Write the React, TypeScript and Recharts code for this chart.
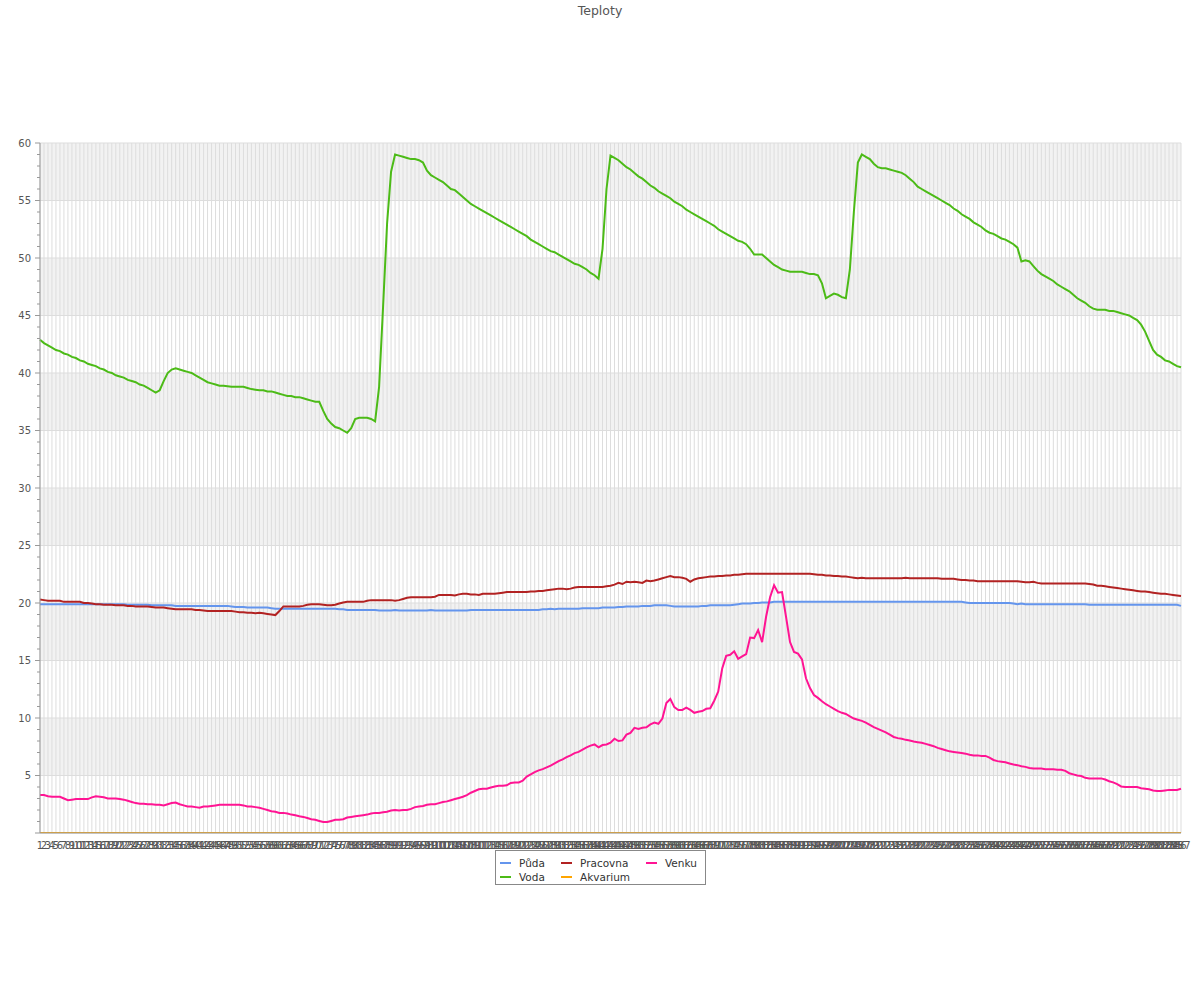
import React from 'react';
import { LineChart, Line, XAxis, YAxis, CartesianGrid, Legend } from 'recharts';

// categories 1..287
const categories: string[] = Array.from({ length: 287 }, (_, i) => String(i + 1));

const puda: number[] = [
  19.9, 19.9, 19.9, 19.9, 19.9, 19.9, 19.9, 19.9, 19.9, 19.9,
  19.9, 19.9, 19.9, 19.9, 19.9, 19.9, 19.9, 19.9, 19.9, 19.9,
  19.9, 19.9, 19.85, 19.85, 19.85, 19.85, 19.85, 19.85, 19.8, 19.8,
  19.8, 19.8, 19.8, 19.8, 19.75, 19.75, 19.75, 19.75, 19.75, 19.75,
  19.75, 19.75, 19.75, 19.75, 19.75, 19.75, 19.75, 19.75, 19.7, 19.65,
  19.65, 19.65, 19.6, 19.6, 19.6, 19.6, 19.6, 19.6, 19.55, 19.5,
  19.5, 19.5, 19.5, 19.5, 19.5, 19.5, 19.5, 19.5, 19.5, 19.5,
  19.5, 19.5, 19.5, 19.5, 19.5, 19.45, 19.45, 19.4, 19.4, 19.4,
  19.4, 19.4, 19.4, 19.4, 19.4, 19.35, 19.35, 19.35, 19.35, 19.4,
  19.35, 19.35, 19.35, 19.35, 19.35, 19.35, 19.35, 19.35, 19.4, 19.35,
  19.35, 19.35, 19.35, 19.35, 19.35, 19.35, 19.35, 19.35, 19.4, 19.4,
  19.4, 19.4, 19.4, 19.4, 19.4, 19.4, 19.4, 19.4, 19.4, 19.4,
  19.4, 19.4, 19.4, 19.4, 19.4, 19.4, 19.45, 19.45, 19.5, 19.45,
  19.5, 19.5, 19.5, 19.5, 19.5, 19.5, 19.55, 19.55, 19.55, 19.55,
  19.55, 19.6, 19.6, 19.6, 19.6, 19.65, 19.65, 19.7, 19.7, 19.7,
  19.7, 19.75, 19.75, 19.75, 19.8, 19.8, 19.8, 19.8, 19.75, 19.7,
  19.7, 19.7, 19.7, 19.7, 19.7, 19.7, 19.75, 19.75, 19.8, 19.8,
  19.8, 19.8, 19.8, 19.8, 19.85, 19.9, 19.95, 19.95, 19.95, 20.0,
  20.0, 20.05, 20.05, 20.05, 20.1, 20.1, 20.1, 20.1, 20.1, 20.1,
  20.1, 20.1, 20.1, 20.1, 20.1, 20.1, 20.1, 20.1, 20.1, 20.1,
  20.1, 20.1, 20.1, 20.1, 20.1, 20.1, 20.1, 20.1, 20.1, 20.1,
  20.1, 20.1, 20.1, 20.1, 20.1, 20.1, 20.1, 20.1, 20.1, 20.1,
  20.1, 20.1, 20.1, 20.1, 20.1, 20.1, 20.1, 20.1, 20.1, 20.1,
  20.1, 20.1, 20.05, 20.0, 20.0, 20.0, 20.0, 20.0, 20.0, 20.0,
  20.0, 20.0, 20.0, 20.0, 19.95, 19.9, 19.95, 19.9, 19.9, 19.9,
  19.9, 19.9, 19.9, 19.9, 19.9, 19.9, 19.9, 19.9, 19.9, 19.9,
  19.9, 19.9, 19.9, 19.85, 19.85, 19.85, 19.85, 19.85, 19.85, 19.85,
  19.85, 19.85, 19.85, 19.85, 19.85, 19.85, 19.85, 19.85, 19.85, 19.85,
  19.85, 19.85, 19.85, 19.85, 19.85, 19.85, 19.75,
];

const voda: number[] = [
  42.9, 42.6, 42.4, 42.2, 42.0, 41.9, 41.7, 41.6, 41.4, 41.3,
  41.1, 41.0, 40.8, 40.7, 40.6, 40.4, 40.3, 40.1, 40.0, 39.8,
  39.7, 39.6, 39.4, 39.3, 39.2, 39.0, 38.9, 38.7, 38.5, 38.3,
  38.5, 39.3, 40.0, 40.3, 40.4, 40.3, 40.2, 40.1, 40.0, 39.8,
  39.6, 39.4, 39.2, 39.1, 39.0, 38.9, 38.9, 38.85, 38.8, 38.8,
  38.8, 38.8, 38.7, 38.6, 38.55, 38.5, 38.5, 38.4, 38.4, 38.3,
  38.2, 38.1, 38.0, 38.0, 37.9, 37.9, 37.8, 37.7, 37.6, 37.5,
  37.5, 36.7, 36.0, 35.6, 35.3, 35.2, 35.0, 34.8, 35.2, 36.0,
  36.1, 36.1, 36.1, 36.0, 35.8, 38.8, 45.8, 53.0, 57.5, 59.0,
  58.9, 58.8, 58.7, 58.6, 58.6, 58.5, 58.3, 57.6, 57.2, 57.0,
  56.8, 56.6, 56.3, 56.0, 55.9, 55.6, 55.3, 55.0, 54.7, 54.5,
  54.3, 54.1, 53.9, 53.7, 53.5, 53.3, 53.1, 52.9, 52.7, 52.5,
  52.3, 52.1, 51.9, 51.6, 51.4, 51.2, 51.0, 50.8, 50.6, 50.5,
  50.3, 50.1, 49.9, 49.7, 49.5, 49.4, 49.2, 49.0, 48.7, 48.5,
  48.2, 50.8, 56.0, 58.9, 58.7, 58.5, 58.2, 57.9, 57.7, 57.4,
  57.1, 56.9, 56.6, 56.3, 56.1, 55.8, 55.6, 55.4, 55.2, 54.9,
  54.7, 54.5, 54.2, 54.0, 53.8, 53.6, 53.4, 53.2, 53.0, 52.8,
  52.5, 52.3, 52.1, 51.9, 51.7, 51.5, 51.4, 51.2, 50.8, 50.3,
  50.3, 50.3, 50.0, 49.7, 49.4, 49.2, 49.0, 48.9, 48.8, 48.8,
  48.8, 48.8, 48.7, 48.6, 48.6, 48.5, 47.8, 46.5, 46.7, 46.9,
  46.8, 46.6, 46.5, 49.0, 54.0, 58.3, 59.0, 58.8, 58.6, 58.2,
  57.9, 57.8, 57.8, 57.7, 57.6, 57.5, 57.4, 57.2, 56.9, 56.6,
  56.2, 56.0, 55.8, 55.6, 55.4, 55.2, 55.0, 54.8, 54.6, 54.3,
  54.1, 53.8, 53.6, 53.4, 53.1, 52.9, 52.7, 52.4, 52.2, 52.1,
  51.9, 51.7, 51.6, 51.4, 51.2, 50.9, 49.7, 49.8, 49.7, 49.3,
  48.9, 48.6, 48.4, 48.2, 48.0, 47.7, 47.5, 47.3, 47.1, 46.8,
  46.5, 46.3, 46.1, 45.8, 45.6, 45.5, 45.5, 45.5, 45.4, 45.4,
  45.3, 45.2, 45.1, 45.0, 44.8, 44.6, 44.2, 43.6, 42.8, 42.0,
  41.6, 41.4, 41.1, 41.0, 40.8, 40.6, 40.5,
];

const pracovna: number[] = [
  20.3, 20.25, 20.2, 20.2, 20.2, 20.2, 20.1, 20.1, 20.1, 20.1,
  20.1, 20.0, 20.0, 19.95, 19.9, 19.9, 19.85, 19.85, 19.85, 19.8,
  19.8, 19.8, 19.75, 19.75, 19.7, 19.7, 19.7, 19.7, 19.65, 19.6,
  19.6, 19.6, 19.55, 19.5, 19.45, 19.45, 19.45, 19.45, 19.45, 19.4,
  19.4, 19.35, 19.3, 19.3, 19.3, 19.3, 19.3, 19.3, 19.3, 19.25,
  19.2, 19.2, 19.15, 19.15, 19.1, 19.15, 19.1, 19.05, 19.0, 18.95,
  19.3, 19.7, 19.7, 19.7, 19.7, 19.7, 19.75, 19.85, 19.9, 19.9,
  19.9, 19.85, 19.8, 19.8, 19.85, 19.95, 20.05, 20.1, 20.1, 20.1,
  20.1, 20.1, 20.2, 20.25, 20.25, 20.25, 20.25, 20.25, 20.25, 20.2,
  20.25, 20.35, 20.45, 20.5, 20.5, 20.5, 20.5, 20.5, 20.5, 20.55,
  20.7, 20.7, 20.7, 20.7, 20.65, 20.75, 20.8, 20.8, 20.75, 20.75,
  20.7, 20.8, 20.8, 20.8, 20.8, 20.85, 20.9, 20.95, 20.95, 20.95,
  20.95, 20.95, 20.95, 21.0, 21.0, 21.05, 21.05, 21.1, 21.15, 21.2,
  21.25, 21.25, 21.2, 21.25, 21.35, 21.4, 21.4, 21.4, 21.4, 21.4,
  21.4, 21.4, 21.45, 21.5, 21.6, 21.75, 21.65, 21.85, 21.8, 21.85,
  21.8, 21.75, 21.95, 21.9, 21.95, 22.05, 22.15, 22.25, 22.35, 22.25,
  22.25, 22.2, 22.1, 21.85, 22.05, 22.15, 22.2, 22.25, 22.3, 22.3,
  22.35, 22.35, 22.4, 22.4, 22.45, 22.45, 22.5, 22.55, 22.55, 22.55,
  22.55, 22.55, 22.55, 22.55, 22.55, 22.55, 22.55, 22.55, 22.55, 22.55,
  22.55, 22.55, 22.55, 22.55, 22.5, 22.45, 22.45, 22.4, 22.4, 22.35,
  22.35, 22.3, 22.3, 22.25, 22.2, 22.15, 22.2, 22.15, 22.15, 22.15,
  22.15, 22.15, 22.15, 22.15, 22.15, 22.15, 22.15, 22.2, 22.15, 22.15,
  22.15, 22.15, 22.15, 22.15, 22.15, 22.15, 22.1, 22.1, 22.1, 22.1,
  22.05, 22.0, 22.0, 21.95, 21.95, 21.9, 21.9, 21.9, 21.9, 21.9,
  21.9, 21.9, 21.9, 21.9, 21.9, 21.9, 21.85, 21.8, 21.8, 21.85,
  21.75, 21.7, 21.7, 21.7, 21.7, 21.7, 21.7, 21.7, 21.7, 21.7,
  21.7, 21.7, 21.7, 21.65, 21.6, 21.5, 21.5, 21.45, 21.4, 21.35,
  21.3, 21.25, 21.2, 21.15, 21.1, 21.05, 21.0, 21.0, 20.95, 20.9,
  20.85, 20.8, 20.8, 20.75, 20.7, 20.65, 20.6,
];

const akvarium: number[] = [
  0, 0, 0, 0, 0, 0, 0, 0, 0, 0, 0, 0, 0, 0, 0, 0, 0, 0, 0, 0,
  0, 0, 0, 0, 0, 0, 0, 0, 0, 0, 0, 0, 0, 0, 0, 0, 0, 0, 0, 0,
  0, 0, 0, 0, 0, 0, 0, 0, 0, 0, 0, 0, 0, 0, 0, 0, 0, 0, 0, 0,
  0, 0, 0, 0, 0, 0, 0, 0, 0, 0, 0, 0, 0, 0, 0, 0, 0, 0, 0, 0,
  0, 0, 0, 0, 0, 0, 0, 0, 0, 0, 0, 0, 0, 0, 0, 0, 0, 0, 0, 0,
  0, 0, 0, 0, 0, 0, 0, 0, 0, 0, 0, 0, 0, 0, 0, 0, 0, 0, 0, 0,
  0, 0, 0, 0, 0, 0, 0, 0, 0, 0, 0, 0, 0, 0, 0, 0, 0, 0, 0, 0,
  0, 0, 0, 0, 0, 0, 0, 0, 0, 0, 0, 0, 0, 0, 0, 0, 0, 0, 0, 0,
  0, 0, 0, 0, 0, 0, 0, 0, 0, 0, 0, 0, 0, 0, 0, 0, 0, 0, 0, 0,
  0, 0, 0, 0, 0, 0, 0, 0, 0, 0, 0, 0, 0, 0, 0, 0, 0, 0, 0, 0,
  0, 0, 0, 0, 0, 0, 0, 0, 0, 0, 0, 0, 0, 0, 0, 0, 0, 0, 0, 0,
  0, 0, 0, 0, 0, 0, 0, 0, 0, 0, 0, 0, 0, 0, 0, 0, 0, 0, 0, 0,
  0, 0, 0, 0, 0, 0, 0, 0, 0, 0, 0, 0, 0, 0, 0, 0, 0, 0, 0, 0,
  0, 0, 0, 0, 0, 0, 0, 0, 0, 0, 0, 0, 0, 0, 0, 0, 0, 0, 0, 0,
  0, 0, 0, 0, 0, 0, 0,
];

const venku: number[] = [
  3.3, 3.3, 3.2, 3.15, 3.15, 3.15, 3.0, 2.85, 2.9, 2.95,
  2.95, 2.95, 2.95, 3.1, 3.2, 3.15, 3.1, 3.0, 3.0, 3.0,
  2.95, 2.9, 2.8, 2.7, 2.6, 2.55, 2.55, 2.5, 2.5, 2.45,
  2.45, 2.4, 2.5, 2.6, 2.65, 2.5, 2.4, 2.3, 2.3, 2.25,
  2.2, 2.3, 2.3, 2.35, 2.4, 2.45, 2.45, 2.45, 2.45, 2.45,
  2.45, 2.4, 2.3, 2.3, 2.25, 2.2, 2.1, 2.0, 1.9, 1.85,
  1.75, 1.75, 1.7, 1.6, 1.55, 1.45, 1.4, 1.3, 1.2, 1.15,
  1.05, 0.95, 0.95, 1.05, 1.15, 1.15, 1.2, 1.35, 1.4, 1.45,
  1.5, 1.55, 1.6, 1.7, 1.75, 1.75, 1.8, 1.85, 1.95, 2.0,
  1.95, 2.0, 2.0, 2.1, 2.25, 2.3, 2.35, 2.45, 2.5, 2.5,
  2.6, 2.7, 2.75, 2.85, 2.95, 3.05, 3.15, 3.3, 3.5, 3.65,
  3.8, 3.85, 3.85, 3.95, 4.05, 4.1, 4.1, 4.15, 4.35, 4.4,
  4.4, 4.55, 4.9, 5.1, 5.3, 5.45, 5.55, 5.7, 5.85, 6.05,
  6.25, 6.4, 6.6, 6.75, 6.95, 7.05, 7.25, 7.45, 7.6, 7.7,
  7.45, 7.65, 7.7, 7.85, 8.2, 8.0, 8.05, 8.55, 8.7, 9.15,
  9.05, 9.15, 9.2, 9.45, 9.6, 9.5, 9.95, 11.3, 11.65, 10.95,
  10.7, 10.7, 10.9, 10.7, 10.45, 10.55, 10.6, 10.8, 10.85, 11.5,
  12.3, 14.3, 15.4, 15.5, 15.8, 15.15, 15.35, 15.55, 17.0, 16.95,
  17.65, 16.6, 18.8, 20.5, 21.55, 20.9, 20.95, 18.8, 16.6, 15.75,
  15.6, 15.1, 13.45, 12.6, 12.0, 11.75, 11.45, 11.2, 11.0, 10.8,
  10.6, 10.45, 10.35, 10.15, 9.95, 9.85, 9.75, 9.6, 9.4, 9.2,
  9.05, 8.9, 8.75, 8.55, 8.35, 8.25, 8.2, 8.1, 8.05, 7.95,
  7.9, 7.85, 7.75, 7.65, 7.55, 7.4, 7.3, 7.2, 7.1, 7.05,
  7.0, 6.95, 6.9, 6.8, 6.75, 6.75, 6.7, 6.7, 6.55, 6.35,
  6.25, 6.2, 6.15, 6.05, 5.95, 5.9, 5.8, 5.75, 5.65, 5.6,
  5.6, 5.6, 5.55, 5.55, 5.55, 5.5, 5.5, 5.4, 5.2, 5.1,
  5.0, 4.95, 4.8, 4.75, 4.75, 4.75, 4.75, 4.65, 4.5, 4.4,
  4.25, 4.05, 4.0, 4.0, 4.0, 4.0, 3.9, 3.85, 3.8, 3.7,
  3.65, 3.65, 3.7, 3.75, 3.75, 3.75, 3.85,
];

const yMajorTicks: number[] = [0, 5, 10, 15, 20, 25, 30, 35, 40, 45, 50, 55, 60];
const yAllTicks: number[] = Array.from({ length: 61 }, (_, i) => i);

const seriesDefs = [
  { key: 'puda', name: 'Půda', color: '#6495ed' },
  { key: 'voda', name: 'Voda', color: '#4cbb17' },
  { key: 'pracovna', name: 'Pracovna', color: '#b22222' },
  { key: 'akvarium', name: 'Akvarium', color: '#ffa500' },
  { key: 'venku', name: 'Venku', color: '#ff1493' },
];

const data = categories.map((label, i) => ({
  label,
  puda: puda[i],
  voda: voda[i],
  pracovna: pracovna[i],
  akvarium: akvarium[i],
  venku: venku[i],
}));

const FONT = 'DejaVu Sans, sans-serif';

const YTick = (props: any) => {
  const { x, y, payload } = props;
  const v = payload.value as number;
  const major = v % 5 === 0;
  return (
    <g>
      <line x1={x - (major ? 5 : 3)} x2={x} y1={y} y2={y} stroke="#999" strokeWidth={1} />
      {major && v !== 0 && (
        <text x={x - 9} y={y} dy="0.35em" textAnchor="end" fontSize={10} fill="#555" fontFamily={FONT}>
          {v}
        </text>
      )}
    </g>
  );
};

const LegendBox = () => (
  <div
    style={{
      border: '1px solid #888',
      background: '#fff',
      display: 'grid',
      gridTemplateColumns: '61px 85px 59px',
      gridTemplateRows: '15px 14px',
      gridAutoFlow: 'column',
      padding: '4px 0 0 4px',
      fontFamily: FONT,
      fontSize: 10.5,
      color: '#333',
      boxSizing: 'content-box',
    }}
  >
    {seriesDefs.map((s) => (
      <div key={s.key} style={{ display: 'flex', alignItems: 'center', whiteSpace: 'nowrap' }}>
        <span style={{ display: 'inline-block', width: 11, height: 2, background: s.color, marginRight: 8 }} />
        <span>{s.name}</span>
      </div>
    ))}
  </div>
);

export default function App() {
  return (
    <div style={{ position: 'absolute', left: 0, top: 0, width: 1200, height: 1000, background: '#fff' }}>
      <div
        style={{
          position: 'absolute',
          top: 4,
          left: 0,
          width: 1200,
          textAlign: 'center',
          fontFamily: FONT,
          fontSize: 12.5,
          lineHeight: '14px',
          color: '#555',
          zIndex: 2,
        }}
      >
        Teploty
      </div>
      <LineChart
        width={1200}
        height={1000}
        data={data}
        margin={{ top: 143, right: 19, left: 0, bottom: 137 }}
        style={{ fontFamily: FONT }}
      >
        <CartesianGrid
          horizontal={true}
          vertical={false}
          horizontalValues={yMajorTicks}
          horizontalFill={['#f2f2f2', '#ffffff']}
          fillOpacity={1}
          stroke="none"
        />
        <CartesianGrid horizontal={true} vertical={true} horizontalValues={yMajorTicks} stroke="#dddddd" />
        <XAxis
          dataKey="label"
          interval={0}
          tickLine={false}
          tickSize={6}
          tickMargin={3}
          axisLine={{ stroke: '#999' }}
          tick={{ fontSize: 10, fill: '#555', fontFamily: FONT }}
          height={30}
        />
        <YAxis
          type="number"
          domain={[0, 60]}
          ticks={yAllTicks}
          interval={0}
          width={40}
          tickSize={0}
          tickMargin={0}
          tickLine={false}
          axisLine={{ stroke: '#999' }}
          tick={<YTick />}
          allowDataOverflow={true}
        />
        <Legend
          layout="vertical"
          align="center"
          verticalAlign="middle"
          wrapperStyle={{ left: 495, top: 850, width: 'auto' }}
          content={() => <LegendBox />}
        />
        {seriesDefs.map((s) => (
          <Line
            key={s.key}
            type="linear"
            dataKey={s.key}
            name={s.name}
            stroke={s.color}
            strokeWidth={2}
            dot={false}
            activeDot={false}
            isAnimationActive={false}
          />
        ))}
      </LineChart>
    </div>
  );
}
